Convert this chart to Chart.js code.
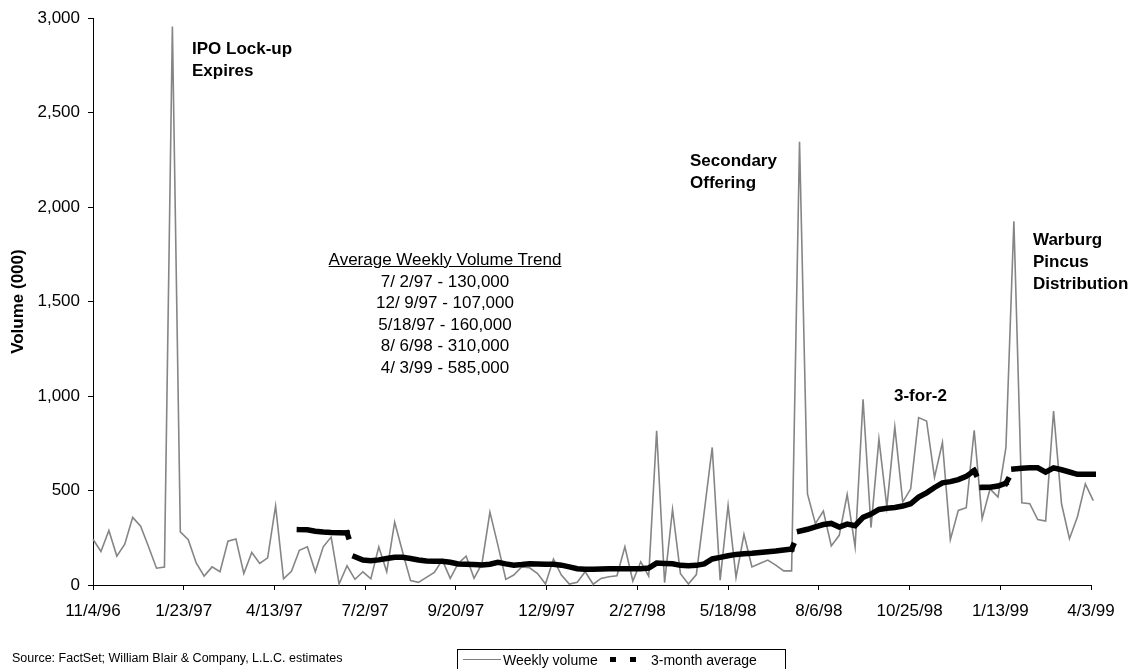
<!DOCTYPE html>
<html>
<head>
<meta charset="utf-8">
<script src="https://cdn.jsdelivr.net/npm/chart.js@4.4.1/dist/chart.umd.min.js"></script>
<style>
  html, body { margin: 0; padding: 0; background: #fff; }
  #wrap { position: relative; width: 1134px; height: 669px; overflow: hidden;
          font-family: "Liberation Sans", Arial, sans-serif; color: #000; }
  #c { position: absolute; left: 0; top: 0; }
  .note { position: absolute; font-weight: bold; font-size: 17px; line-height: 22px; white-space: nowrap; }
  #trend { position: absolute; left: 305px; top: 249px; width: 280px; text-align: center;
           font-size: 17px; line-height: 21.5px; white-space: pre; }
  #trend .head { text-decoration: underline; }
  #source { position: absolute; left: 12px; top: 650px; font-size: 12.5px; line-height: 16px; white-space: nowrap; }
  #legend { position: absolute; left: 457px; top: 649px; width: 329px; height: 30px;
            border: 1px solid #000; box-sizing: border-box; font-size: 14px; }
  #legend .txt { position: absolute; top: 1px; line-height: 18px; white-space: nowrap; }
  #legend .gline { position: absolute; left: 5px; top: 9px; width: 38px; border-top: 1.5px solid #808080; }
  #legend .sq { position: absolute; top: 7px; width: 6px; height: 5px; background: #000; }
</style>
</head>
<body>
<div id="wrap">
  <canvas id="c" width="1134" height="669"></canvas>

  <div class="note" style="left:192px; top:38px;">IPO Lock-up<br>Expires</div>
  <div class="note" style="left:690px; top:150px;">Secondary<br>Offering</div>
  <div class="note" style="left:1033px; top:229px;">Warburg<br>Pincus<br>Distribution</div>
  <div class="note" style="left:894px; top:385px;">3-for-2</div>

  <div id="trend"><span class="head">Average Weekly Volume Trend</span>
7/ 2/97 - 130,000
12/ 9/97 - 107,000
5/18/97 - 160,000
8/ 6/98 - 310,000
4/ 3/99 - 585,000</div>

  <div id="source">Source: FactSet; William Blair &amp; Company, L.L.C. estimates</div>

  <div id="legend">
    <span class="gline"></span>
    <span class="txt" style="left:45px;">Weekly volume</span>
    <span class="sq" style="left:152px;"></span>
    <span class="sq" style="left:172px;"></span>
    <span class="txt" style="left:193px;">3-month average</span>
  </div>
</div>

<script>
// Weekly trading volume (000 shares), one value per week starting 11/4/96
const startDate = '11/4/96';
const weeklyVolume = [
  242, 177, 289, 153, 216, 358, 311, 202, 89, 95,
  2956, 281, 240, 117, 47, 96, 70, 232, 244, 61,
  172, 114, 144, 419, 33, 73, 184, 202, 70, 202,
  254, 5, 102, 30, 70, 33, 202, 70, 333, 175,
  23, 14, 40, 67, 132, 35, 114, 153, 35, 114,
  386, 211, 30, 53, 96, 91, 61, 5, 137, 53,
  5, 14, 70, 4, 35, 44, 49, 202, 21, 123,
  47, 816, 12, 400, 60, 5, 55, 390, 728, 26,
  421, 40, 268, 96, 114, 132, 105, 75, 75, 2346,
  482, 325, 391, 207, 263, 479, 202, 983, 304, 772,
  412, 837, 439, 509, 886, 868, 570, 754, 240, 395,
  409, 819, 351, 509, 465, 728, 1925, 435, 430, 346,
  339, 921, 430, 245, 360, 535, 447
];

// 3-month average volume, same weeks (no value for the first weeks)
const threeMonthAvg = [
  null, null, null, null, null, null, null, null, null, null,
  null, null, null, null, null, null, null, null, null, null,
  null, null, null, null, null, null,
  293, 292, 285, 280, 278, 277, 276,
  149, 132, 128, 133, 140, 147, 147, 140, 132, 127,
  126, 126, 120, 111, 110, 109, 106, 110, 120, 112,
  105, 108, 112, 111, 110, 110, 105, 96, 86, 84,
  84, 85, 86, 86, 86, 86, 86, 90, 116, 114,
  112, 104, 102, 104, 112, 138, 146, 155, 162, 165,
  168, 172, 176, 180, 185, 190,
  285, 295, 308, 320, 326, 307, 322, 314, 358, 375,
  400, 406, 410, 418, 430, 465, 488, 516, 541, 547,
  558, 575, 605,
  517, 518, 524, 539,
  614, 618, 620, 620, 597, 620, 610, 598, 586, 586, 586
];

const tickLabels = ['11/4/96', '1/23/97', '4/13/97', '7/2/97', '9/20/97', '12/9/97',
                    '2/27/98', '5/18/98', '8/6/98', '10/25/98', '1/13/99', '4/3/99'];
const yTickValues = [0, 500, 1000, 1500, 2000, 2500, 3000];

// m/d/yy -> day number
function dayOf(s) {
  const [m, d, y] = s.split('/').map(Number);
  return Date.UTC(1900 + y, m - 1, d) / 86400000;
}
const day0 = dayOf(startDate);
const tickDays = tickLabels.map(t => dayOf(t) - day0);
const weekly = arr => arr.map((v, i) => ({ x: i * 7, y: v }));

const FONT = '"Liberation Sans", Arial, sans-serif';

new Chart(document.getElementById('c'), {
  type: 'line',
  data: {
    datasets: [
      {
        label: '3-month average',
        data: weekly(threeMonthAvg),
        borderColor: '#000',
        borderWidth: 5.5,
        borderCapStyle: 'square',
        pointRadius: 0,
        spanGaps: false,
        clip: false,
        segment: {
          // steep jumps only get a short stub of the thick line
          borderDash: ctx => {
            const len = Math.hypot(ctx.p1.x - ctx.p0.x, ctx.p1.y - ctx.p0.y);
            return len > 13 ? [4, 400] : undefined;
          }
        }
      },
      {
        label: 'Weekly volume',
        data: weekly(weeklyVolume),
        borderColor: '#858585',
        borderWidth: 1.6,
        pointRadius: 0,
        clip: false
      }
    ]
  },
  options: {
    responsive: false,
    animation: false,
    devicePixelRatio: 1,
    events: [],
    layout: { padding: { top: 15, right: 43, bottom: 0, left: 0 } },
    plugins: { legend: { display: false }, tooltip: { enabled: false } },
    scales: {
      x: {
        type: 'linear',
        min: 0,
        max: tickDays[tickDays.length - 1],
        afterBuildTicks: s => { s.ticks = tickDays.map(v => ({ value: v })); },
        afterFit: s => { s.height = 84; },
        ticks: {
          callback: (v, i) => tickLabels[i],
          autoSkip: false, maxRotation: 0,
          color: '#000', padding: 11,
          font: { family: FONT, size: 17 }
        },
        grid: { display: true, drawOnChartArea: false, drawTicks: true, tickLength: 5, color: '#000' },
        border: { display: true, color: '#000', width: 1 }
      },
      y: {
        min: 0,
        max: 3000,
        afterBuildTicks: s => { s.ticks = yTickValues.map(v => ({ value: v })); },
        afterFit: s => { s.width = 93; },
        ticks: {
          callback: v => v.toLocaleString('en-US'),
          color: '#000', padding: 8,
          font: { family: FONT, size: 17 }
        },
        grid: { display: true, drawOnChartArea: false, drawTicks: true, tickLength: 5, color: '#000' },
        border: { display: true, color: '#000', width: 1 },
        title: {
          display: true, text: 'Volume (000)', color: '#000',
          font: { family: FONT, size: 17, weight: 'bold' },
          padding: { top: 8, bottom: 0 }
        }
      }
    }
  }
});
</script>
</body>
</html>
